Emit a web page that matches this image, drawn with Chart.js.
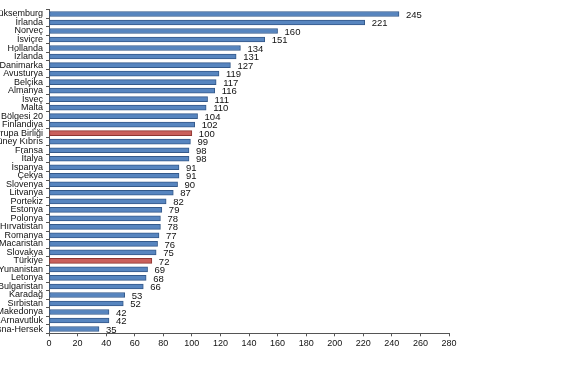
<!DOCTYPE html>
<html>
<head>
<meta charset="utf-8">
<script src="https://cdn.jsdelivr.net/npm/chart.js@4"></script>
<style>
html,body{margin:0;padding:0;background:#fff;overflow:hidden;}
#wrap{position:absolute;left:0;top:0;width:570px;height:380px;}
</style>
</head>
<body>
<div id="wrap"><canvas id="c" width="570" height="380"></canvas></div>
<script>
const categories = ["Lüksemburg","İrlanda","Norveç","İsviçre","Hollanda","İzlanda","Danimarka","Avusturya","Belçika","Almanya","İsveç","Malta","Avro Bölgesi 20","Finlandiya","Avrupa Birliği","Güney Kıbrıs","Fransa","İtalya","İspanya","Çekya","Slovenya","Litvanya","Portekiz","Estonya","Polonya","Hırvatistan","Romanya","Macaristan","Slovakya","Türkiye","Yunanistan","Letonya","Bulgaristan","Karadağ","Sırbistan","Kuzey Makedonya","Arnavutluk","Bosna-Hersek"];
const values = [245,221,160,151,134,131,127,119,117,116,111,110,104,102,100,99,98,98,91,91,90,87,82,79,78,78,77,76,75,72,69,68,66,53,52,42,42,35];
const highlighted = ["Avrupa Birliği","Türkiye"];
const xTicks = [0,20,40,60,80,100,120,140,160,180,200,220,240,260,280];

const blueFill = '#5785BF', blueEdge = '#34598A';
const redFill = '#C9605C', redEdge = '#8E3532';
const fills = categories.map(c => highlighted.includes(c) ? redFill : blueFill);
const edges = categories.map(c => highlighted.includes(c) ? redEdge : blueEdge);

const valueLabels = {
  id: 'valueLabels',
  afterDatasetsDraw(chart) {
    const ctx = chart.ctx;
    const meta = chart.getDatasetMeta(0);
    ctx.save();
    ctx.font = '9.5px "Liberation Sans", Arial, sans-serif';
    ctx.fillStyle = '#111';
    ctx.textAlign = 'left';
    ctx.textBaseline = 'middle';
    meta.data.forEach((bar, i) => {
      ctx.fillText(String(values[i]), bar.x + 7, bar.y + 1);
    });
    ctx.restore();
  }
};

new Chart(document.getElementById('c'), {
  type: 'bar',
  data: {
    labels: categories,
    datasets: [{
      data: values,
      backgroundColor: fills,
      borderColor: edges,
      borderWidth: 1,
      barThickness: 5,
      borderSkipped: false
    }]
  },
  options: {
    indexAxis: 'y',
    responsive: false,
    animation: false,
    devicePixelRatio: 1,
    layout: { padding: { left: 0, right: 121, top: 9.7, bottom: 0 } },
    plugins: { legend: { display: false }, tooltip: { enabled: false } },
    scales: {
      x: {
        min: 0, max: 280,
        afterBuildTicks(scale) { scale.ticks = xTicks.map(v => ({ value: v })); },
        afterFit(scale) { scale.height = 46.7; },
        grid: { drawOnChartArea: false, drawTicks: true, tickLength: 3, color: '#555' },
        border: { display: true, color: '#555', width: 1 },
        ticks: { color: '#111', font: { family: '"Liberation Sans", Arial, sans-serif', size: 9 }, padding: 2, maxRotation: 0, autoSkip: false }
      },
      y: {
        afterFit(scale) { scale.width = 49; },
        grid: { drawOnChartArea: false, drawTicks: true, tickLength: 3, color: '#555', offset: true },
        border: { display: true, color: '#555', width: 1 },
        ticks: { color: '#111', font: { family: '"Liberation Sans", Arial, sans-serif', size: 9 }, padding: 3, autoSkip: false }
      }
    }
  },
  plugins: [valueLabels]
});
</script>
</body>
</html>
